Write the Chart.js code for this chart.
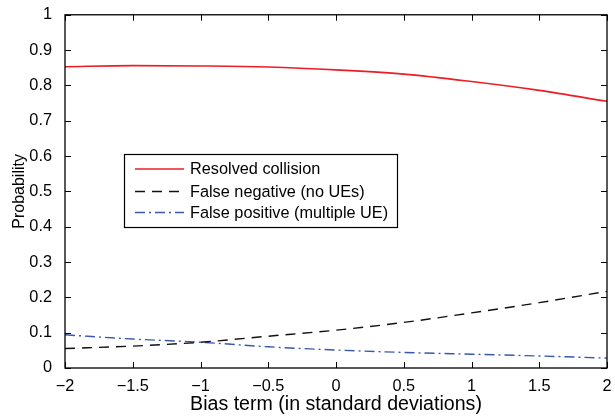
<!DOCTYPE html>
<html>
<head>
<meta charset="utf-8">
<script src="https://cdn.jsdelivr.net/npm/chart.js@4"></script>
<style>
  html, body { margin: 0; padding: 0; background: #fff; }
  #wrap { width: 615px; height: 416px; }
</style>
</head>
<body>
<div id="wrap"><canvas id="chart" width="615" height="416"></canvas></div>
<script>
// values
const biasTerms = [-2, -1.5, -1, -0.5, 0, 0.5, 1, 1.5, 2];
const resolvedCollision = [0.853, 0.856, 0.855, 0.852, 0.844, 0.832, 0.811, 0.786, 0.755];
const falseNegative = [0.055, 0.062, 0.073, 0.090, 0.107, 0.129, 0.156, 0.185, 0.217];
const falsePositive = [0.094, 0.082, 0.073, 0.060, 0.051, 0.044, 0.039, 0.034, 0.028];
const yTicks = [0, 0.1, 0.2, 0.3, 0.4, 0.5, 0.6, 0.7, 0.8, 0.9, 1];
const seriesNames = ['Resolved collision', 'False negative (no UEs)', 'False positive (multiple UE)'];

const FONT = 'Liberation Sans, Arial, Helvetica, sans-serif';
const toPoints = vals => biasTerms.map((x, i) => ({ x, y: vals[i] }));
const minus = v => String(v).replace('-', '\u2212');

// MATLAB-like box with inward tick marks, plus the legend box
const boxTicks = {
  id: 'boxTicks',
  afterDatasetsDraw(chart) {
    const { ctx, chartArea: a, scales: { x, y } } = chart;
    ctx.save();
    ctx.strokeStyle = '#000';
    ctx.lineWidth = 1;
    ctx.beginPath();
    biasTerms.forEach(v => {
      const px = Math.round(x.getPixelForValue(v)) + 0.5;
      ctx.moveTo(px, a.bottom); ctx.lineTo(px, a.bottom - 6);
      ctx.moveTo(px, a.top); ctx.lineTo(px, a.top + 6);
    });
    yTicks.forEach(v => {
      const py = Math.round(y.getPixelForValue(v)) + 0.5;
      ctx.moveTo(a.left, py); ctx.lineTo(a.left + 6, py);
      ctx.moveTo(a.right, py); ctx.lineTo(a.right - 6, py);
    });
    ctx.stroke();
    ctx.lineWidth = 1.3;
    ctx.strokeRect(a.left, a.top, a.right - a.left, a.bottom - a.top);

    const lx = 124, ly = 154, lw = 273, lh = 73;
    ctx.fillStyle = '#fff';
    ctx.fillRect(lx, ly, lw, lh);
    ctx.lineWidth = 1.2;
    ctx.strokeRect(lx + 0.5, ly + 0.5, lw, lh);
    const rows = [169, 191.5, 212.5];
    chart.data.datasets.forEach((ds, i) => {
      ctx.beginPath();
      ctx.strokeStyle = ds.borderColor;
      ctx.lineWidth = ds.borderWidth;
      ctx.setLineDash(ds.borderDash || []);
      ctx.moveTo(135, rows[i]); ctx.lineTo(184, rows[i]);
      ctx.stroke();
      ctx.setLineDash([]);
      ctx.fillStyle = '#000';
      ctx.font = '16.3px ' + FONT;
      ctx.textBaseline = 'middle';
      ctx.fillText(seriesNames[i], 190, rows[i] + 1);
    });
    ctx.restore();
  }
};

new Chart(document.getElementById('chart').getContext('2d'), {
  type: 'line',
  data: {
    datasets: [
      { label: seriesNames[0], data: toPoints(resolvedCollision), borderColor: '#ee1c25', borderWidth: 1.6 },
      { label: seriesNames[1], data: toPoints(falseNegative), borderColor: '#111', borderWidth: 1.4, borderDash: [10, 7] },
      { label: seriesNames[2], data: toPoints(falsePositive), borderColor: '#3a58ad', borderWidth: 1.4, borderDash: [10, 4, 2, 4] }
    ]
  },
  options: {
    responsive: false,
    animation: false,
    layout: { padding: { top: 13, right: 8, bottom: 0, left: 0 } },
    elements: { point: { radius: 0 }, line: { cubicInterpolationMode: 'monotone' } },
    plugins: { legend: { display: false }, tooltip: { enabled: false } },
    scales: {
      x: {
        type: 'linear', min: -2, max: 2,
        grid: { display: false },
        border: { display: false },
        afterBuildTicks: s => { s.ticks = biasTerms.map(v => ({ value: v })); },
        afterFit: s => { s.height = 48; },
        ticks: { color: '#000', font: { family: FONT, size: 16.3 }, padding: 1, maxRotation: 0, callback: v => minus(v) },
        title: { display: true, text: 'Bias term (in standard deviations)', color: '#000', font: { family: FONT, size: 19.6 }, padding: { top: 0, bottom: 0 } }
      },
      y: {
        min: 0, max: 1,
        grid: { display: false },
        border: { display: false },
        afterBuildTicks: s => { s.ticks = yTicks.map(v => ({ value: v })); },
        afterFit: s => { s.width = 65; },
        ticks: { color: '#000', font: { family: FONT, size: 16.3 }, padding: 5, callback: v => String(v) },
        title: { display: true, text: 'Probability', color: '#000', font: { family: FONT, size: 16 }, padding: { top: 10, bottom: 0 } }
      }
    }
  },
  plugins: [boxTicks]
});
</script>
</body>
</html>
